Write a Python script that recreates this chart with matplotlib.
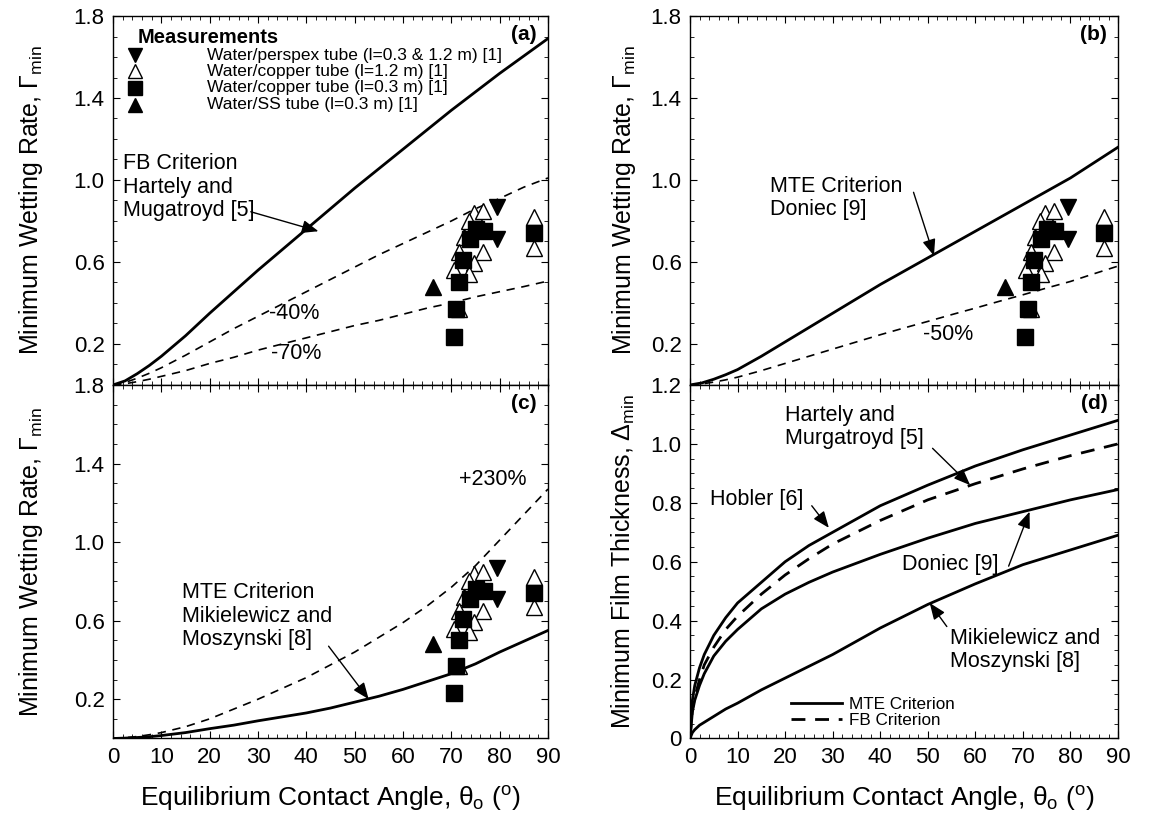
import matplotlib
matplotlib.use("Agg")
import matplotlib.pyplot as plt
from matplotlib.ticker import MultipleLocator, FixedLocator

plt.rcParams['font.family'] = ['Liberation Sans', 'DejaVu Sans']
plt.rcParams['mathtext.fontset'] = 'custom'
plt.rcParams['mathtext.rm'] = 'Liberation Sans'
plt.rcParams['mathtext.it'] = 'Liberation Sans'

# ---------------- data ----------------
theta = [0, 2.5, 5, 7.5, 10, 15, 20, 25, 30, 35, 40, 45, 50, 55, 60, 65, 70, 75, 80, 85, 90]

# (a) FB criterion, Hartely & Mugatroyd, and -40% / -70% bands
fb_hm = [0, 0.02, 0.055, 0.095, 0.14, 0.24, 0.35, 0.455, 0.56, 0.66, 0.76, 0.86, 0.96,
         1.055, 1.15, 1.245, 1.34, 1.43, 1.52, 1.605, 1.69]
fb_m40 = [0, 0.012, 0.033, 0.057, 0.084, 0.145, 0.21, 0.275, 0.335, 0.395, 0.455, 0.515,
          0.575, 0.635, 0.69, 0.745, 0.80, 0.86, 0.91, 0.965, 1.01]
fb_m70 = [0, 0.006, 0.016, 0.028, 0.042, 0.07, 0.105, 0.135, 0.17, 0.20, 0.23, 0.26, 0.29,
          0.315, 0.345, 0.375, 0.40, 0.43, 0.455, 0.48, 0.507]

# (b) MTE criterion Doniec and -50%
mte_don = [0, 0.01, 0.028, 0.05, 0.075, 0.14, 0.21, 0.28, 0.35, 0.42, 0.49, 0.555, 0.62,
           0.685, 0.75, 0.815, 0.88, 0.945, 1.01, 1.085, 1.16]
mte_don_m50 = [0, 0.005, 0.014, 0.025, 0.038, 0.07, 0.105, 0.14, 0.175, 0.21, 0.245, 0.278,
               0.31, 0.343, 0.375, 0.408, 0.44, 0.473, 0.505, 0.543, 0.58]

# (c) MTE criterion Mikielewicz & Moszynski and +230%
mte_mm = [0, 0.002, 0.005, 0.009, 0.015, 0.03, 0.05, 0.068, 0.09, 0.11, 0.13, 0.155, 0.185,
          0.215, 0.25, 0.29, 0.33, 0.38, 0.44, 0.495, 0.55]
mte_mm_p230 = [0, 0.004, 0.01, 0.019, 0.03, 0.06, 0.10, 0.15, 0.20, 0.255, 0.31, 0.375, 0.44,
               0.515, 0.59, 0.675, 0.77, 0.88, 1.01, 1.14, 1.27]

# (d) minimum film thickness
theta_d = [0, 0.5, 1, 2, 3, 5, 7.5, 10, 15, 20, 25, 30, 40, 50, 60, 70, 80, 90]
d_hobler = [0, 0.13, 0.18, 0.24, 0.285, 0.35, 0.41, 0.46, 0.53, 0.60, 0.655, 0.70, 0.79,
            0.86, 0.925, 0.98, 1.03, 1.08]
d_hm_fb = [0, 0.10, 0.14, 0.20, 0.25, 0.31, 0.37, 0.415, 0.49, 0.555, 0.61, 0.66, 0.74,
           0.81, 0.865, 0.915, 0.96, 1.00]
d_doniec = [0, 0.09, 0.13, 0.18, 0.22, 0.28, 0.33, 0.37, 0.44, 0.49, 0.53, 0.565, 0.625,
            0.68, 0.73, 0.77, 0.81, 0.845]
d_mm = [0, 0.02, 0.03, 0.045, 0.055, 0.075, 0.10, 0.12, 0.165, 0.205, 0.245, 0.285, 0.375,
        0.455, 0.525, 0.59, 0.64, 0.69]

# measurements
perspex_x = [79.5, 79.5]
perspex_y = [0.87, 0.71]
copper12_x = [74.7, 76.6, 73.6, 72.6, 71.6, 76.6, 74.7, 70.6, 73.7, 71.6, 87.1, 87.1]
copper12_y = [0.84, 0.85, 0.80, 0.72, 0.65, 0.65, 0.595, 0.56, 0.54, 0.37, 0.82, 0.67]
copper03_x = [70.5, 71.0, 71.6, 72.4, 73.9, 75.1, 76.8, 87.1]
copper03_y = [0.234, 0.37, 0.50, 0.61, 0.71, 0.76, 0.75, 0.74]
ss_x = [66.2]
ss_y = [0.48]

legend_labels = ['Water/perspex tube (l=0.3 & 1.2 m) [1]',
                 'Water/copper tube (l=1.2 m) [1]',
                 'Water/copper tube (l=0.3 m) [1]',
                 'Water/SS tube (l=0.3 m) [1]']

# ---------------- figure ----------------
fig = plt.figure(figsize=(11.5, 8.21), dpi=100)
ax_a = fig.add_axes([0.0983, 0.5311, 0.3782, 0.4494])
ax_c = fig.add_axes([0.0983, 0.1005, 0.3782, 0.4306])
ax_b = fig.add_axes([0.6000, 0.5311, 0.3722, 0.4494])
ax_d = fig.add_axes([0.6000, 0.1005, 0.3722, 0.4306])

TF = 16    # tick font
YLF = 18   # y label font
XLF = 19   # x label font
AF = 15.5  # annotation font
ms_t = 12
ms_s = 11


def style(ax, ymax, yticks, yminor, xlabels=True):
    ax.set_xlim(0, 90)
    ax.set_ylim(0, ymax)
    ax.xaxis.set_major_locator(MultipleLocator(10))
    ax.xaxis.set_minor_locator(MultipleLocator(2))
    ax.yaxis.set_major_locator(FixedLocator(yticks))
    ax.yaxis.set_minor_locator(MultipleLocator(yminor))
    ax.tick_params(which='both', direction='in', top=True, right=True, labelsize=TF, pad=6)
    ax.tick_params(which='major', length=5, width=0.8)
    ax.tick_params(which='minor', length=3, width=0.6)
    if not xlabels:
        ax.tick_params(labelbottom=False)
    for s in ax.spines.values():
        s.set_linewidth(1.0)


def scatter(ax):
    ax.plot(ss_x, ss_y, '^', color='black', ms=ms_t, ls='none')
    ax.plot(copper12_x, copper12_y, '^', mfc='white', mec='black', mew=1.0, ms=ms_t, ls='none')
    ax.plot(copper03_x, copper03_y, 's', color='black', ms=ms_s, ls='none')
    ax.plot(perspex_x, perspex_y, 'v', color='black', ms=ms_t, ls='none')


arrow = dict(arrowstyle='-|>,head_length=1.0,head_width=0.4', color='black', lw=1.0,
             shrinkA=0, shrinkB=0)
ylab_w = r'Minimum Wetting Rate, $\Gamma_{\mathrm{min}}$'
xlab = r'Equilibrium Contact Angle, $\theta_{\mathrm{o}}$ ($^{\mathrm{o}}$)'

# ---- (a)
style(ax_a, 1.8, [0.2, 0.6, 1.0, 1.4, 1.8], 0.1, xlabels=False)
ax_a.plot(theta, fb_hm, color='black', lw=2.0)
ax_a.plot(theta, fb_m40, color='black', lw=1.2, ls=(0, (5, 4)))
ax_a.plot(theta, fb_m70, color='black', lw=1.2, ls=(0, (5, 4)))
scatter(ax_a)
ax_a.set_ylabel(ylab_w, fontsize=YLF, labelpad=21)
ax_a.text(0.975, 0.975, '(a)', transform=ax_a.transAxes, ha='right', va='top',
          fontsize=15, fontweight='bold')
ax_a.text(2.0, 1.13, 'FB Criterion\nHartely and\nMugatroyd [5]', fontsize=AF, ha='left',
          va='top', linespacing=1.15)
ax_a.annotate('', xy=(42.5, 0.75), xytext=(28.5, 0.845), arrowprops=arrow)
ax_a.text(37.5, 0.35, '-40%', fontsize=AF, ha='center', va='center')
ax_a.text(38.0, 0.155, '-70%', fontsize=AF, ha='center', va='center')

# manual legend (measurements)
tr = ax_a.transAxes
ax_a.text(0.057, 0.943, 'Measurements', transform=tr, fontsize=14.5, fontweight='bold',
          ha='left', va='center')
leg_y = [0.894, 0.850, 0.806, 0.760]
lms = 10.5
ax_a.plot([0.05], [leg_y[0]], 'v', color='black', ms=lms, transform=tr, clip_on=False)
ax_a.plot([0.05], [leg_y[1]], '^', mfc='white', mec='black', ms=lms, transform=tr, clip_on=False)
ax_a.plot([0.05], [leg_y[2]], 's', color='black', ms=lms - 1, transform=tr, clip_on=False)
ax_a.plot([0.05], [leg_y[3]], '^', color='black', ms=lms, transform=tr, clip_on=False)
for yy, lab in zip(leg_y, legend_labels):
    ax_a.text(0.216, yy, lab, transform=tr, fontsize=12.5, ha='left', va='center')

# ---- (b)
style(ax_b, 1.8, [0.2, 0.6, 1.0, 1.4, 1.8], 0.1, xlabels=False)
ax_b.plot(theta, mte_don, color='black', lw=2.0)
ax_b.plot(theta, mte_don_m50, color='black', lw=1.2, ls=(0, (5, 4)))
scatter(ax_b)
ax_b.set_ylabel(ylab_w, fontsize=YLF, labelpad=9)
ax_b.text(0.975, 0.975, '(b)', transform=ax_b.transAxes, ha='right', va='top',
          fontsize=15, fontweight='bold')
ax_b.text(16.9, 1.02, 'MTE Criterion\nDoniec [9]', fontsize=AF, ha='left', va='top',
          linespacing=1.15)
ax_b.annotate('', xy=(51.3, 0.63), xytext=(47.0, 0.94), arrowprops=arrow)
ax_b.text(54.2, 0.245, '-50%', fontsize=AF, ha='center', va='center')

# ---- (c)
style(ax_c, 1.8, [0.2, 0.6, 1.0, 1.4, 1.8], 0.1, xlabels=True)
ax_c.plot(theta, mte_mm, color='black', lw=2.0)
ax_c.plot(theta, mte_mm_p230, color='black', lw=1.2, ls=(0, (5, 4)))
scatter(ax_c)
ax_c.set_ylabel(ylab_w, fontsize=YLF, labelpad=21)
ax_c.set_xlabel(xlab, fontsize=XLF, labelpad=12)
ax_c.text(0.975, 0.975, '(c)', transform=ax_c.transAxes, ha='right', va='top',
          fontsize=15, fontweight='bold')
ax_c.text(14.3, 0.795, 'MTE Criterion\nMikielewicz and\nMoszynski [8]', fontsize=AF,
          ha='left', va='top', linespacing=1.15)
ax_c.annotate('', xy=(52.9, 0.20), xytext=(44.6, 0.47), arrowprops=arrow)
ax_c.text(78.6, 1.32, '+230%', fontsize=AF, ha='center', va='center')

# ---- (d)
style(ax_d, 1.2, [0, 0.2, 0.4, 0.6, 0.8, 1.0, 1.2], 0.05, xlabels=True)
ax_d.yaxis.set_major_formatter(plt.FuncFormatter(lambda v, p: '0' if v == 0 else f'{v:.1f}'))
ax_d.plot(theta_d, d_hobler, color='black', lw=2.0, label='MTE Criterion')
ax_d.plot(theta_d, d_hm_fb, color='black', lw=2.0, ls=(0, (5, 3.5)), label='FB Criterion')
ax_d.plot(theta_d, d_doniec, color='black', lw=2.0)
ax_d.plot(theta_d, d_mm, color='black', lw=2.0)
ax_d.set_ylabel(r'Minimum Film Thickness, $\Delta_{\mathrm{min}}$', fontsize=YLF, labelpad=10)
ax_d.set_xlabel(xlab, fontsize=XLF, labelpad=12)
ax_d.text(0.975, 0.975, '(d)', transform=ax_d.transAxes, ha='right', va='top',
          fontsize=15, fontweight='bold')
ax_d.text(19.9, 1.133, 'Hartely and\nMurgatroyd [5]', fontsize=AF, ha='left', va='top',
          linespacing=1.15)
ax_d.annotate('', xy=(58.9, 0.86), xytext=(51.0, 0.985), arrowprops=arrow)
ax_d.text(4.2, 0.81, 'Hobler [6]', fontsize=AF, ha='left', va='center')
ax_d.annotate('', xy=(29.2, 0.715), xytext=(25.6, 0.79), arrowprops=arrow)
ax_d.text(44.5, 0.59, 'Doniec [9]', fontsize=AF, ha='left', va='center')
ax_d.annotate('', xy=(71.4, 0.77), xytext=(67.0, 0.585), arrowprops=arrow)
ax_d.text(54.7, 0.375, 'Mikielewicz and\nMoszynski [8]', fontsize=AF, ha='left', va='top',
          linespacing=1.15)
ax_d.annotate('', xy=(50.4, 0.46), xytext=(54.0, 0.38), arrowprops=arrow)
ax_d.legend(loc='lower left', bbox_to_anchor=(0.2, -0.015), frameon=False, fontsize=12.3,
            handlelength=3.0, labelspacing=0.1, handletextpad=0.4)

fig.savefig('out.png', dpi=100)
